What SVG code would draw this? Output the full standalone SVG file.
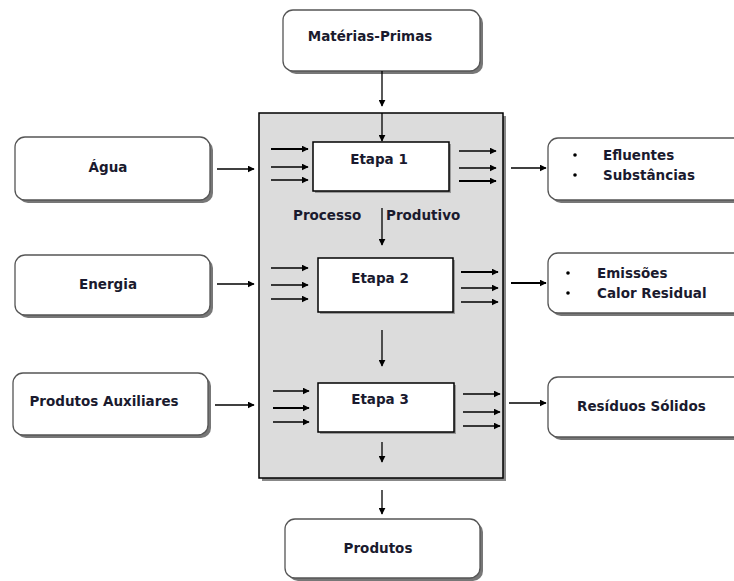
<svg xmlns="http://www.w3.org/2000/svg" width="734" height="581" viewBox="0 0 734 581">
<style>
.t{font-family:"DejaVu Sans",Verdana,sans-serif;font-weight:bold;font-size:13.5px;fill:#1a1a2e}
.rb{fill:#fff;stroke:#555;stroke-width:1.3}
.sh{fill:#777}
.c{stroke:#000;stroke-width:1.3;fill:none;marker-end:url(#ah)}
.k{stroke-width:2.2}
</style>
<defs>
<marker id="ah" viewBox="0 0 10 10" refX="9" refY="5" markerWidth="7" markerHeight="7" markerUnits="userSpaceOnUse" orient="auto">
<path d="M0,0 L10,5 L0,10 z" fill="#000"/>
</marker>
</defs>
<rect width="734" height="581" fill="#fff"/>
<g id="processo">
<rect x="262" y="116" width="244" height="365" fill="#888"/>
<rect x="259" y="113" width="244" height="365" fill="#dcdcdc" stroke="#000" stroke-width="1.5"/>
<text class="t" x="293" y="220">Processo</text>
<text class="t" x="386" y="220">Produtivo</text>
</g>
<g id="materias">
<rect class="sh" x="286" y="13" width="197" height="61" rx="10"/>
<rect class="rb" x="283" y="10" width="197" height="61" rx="10"/>
<text class="t" x="370" y="41" text-anchor="middle">Matérias-Primas</text>
</g>
<g id="agua">
<rect class="sh" x="18" y="140" width="195" height="63" rx="10"/>
<rect class="rb" x="15" y="137" width="195" height="63" rx="10"/>
<text class="t" x="108" y="172" text-anchor="middle">Água</text>
</g>
<g id="energia">
<rect class="sh" x="18" y="258" width="195" height="60" rx="10"/>
<rect class="rb" x="15" y="255" width="195" height="60" rx="10"/>
<text class="t" x="108" y="289" text-anchor="middle">Energia</text>
</g>
<g id="auxiliares">
<rect class="sh" x="16" y="376" width="195" height="62" rx="10"/>
<rect class="rb" x="13" y="373" width="195" height="62" rx="10"/>
<text class="t" x="104" y="406" text-anchor="middle">Produtos Auxiliares</text>
</g>
<g id="efluentes">
<rect class="sh" x="551" y="141" width="200" height="62" rx="10"/>
<rect class="rb" x="548" y="138" width="200" height="62" rx="10"/>
<circle cx="575" cy="155" r="1.8" fill="#000"/>
<circle cx="575" cy="175" r="1.8" fill="#000"/>
<text class="t" x="603" y="160">Efluentes</text>
<text class="t" x="603" y="180">Substâncias</text>
</g>
<g id="emissoes">
<rect class="sh" x="551" y="256" width="200" height="60" rx="10"/>
<rect class="rb" x="548" y="253" width="200" height="60" rx="10"/>
<circle cx="568" cy="273" r="1.8" fill="#000"/>
<circle cx="568" cy="293" r="1.8" fill="#000"/>
<text class="t" x="597" y="278">Emissões</text>
<text class="t" x="597" y="298">Calor Residual</text>
</g>
<g id="residuos">
<rect class="sh" x="551" y="380" width="200" height="60" rx="10"/>
<rect class="rb" x="548" y="377" width="200" height="60" rx="10"/>
<text class="t" x="577" y="411">Resíduos Sólidos</text>
</g>
<g id="produtos">
<rect class="sh" x="288" y="522" width="195" height="59" rx="10"/>
<rect class="rb" x="285" y="519" width="195" height="59" rx="10"/>
<text class="t" x="378" y="553" text-anchor="middle">Produtos</text>
</g>
<g id="etapa1">
<rect x="315" y="144" width="136" height="49" fill="#999"/>
<rect x="313" y="142" width="136" height="49" fill="#fff" stroke="#000" stroke-width="1.5"/>
<text class="t" x="379" y="164" text-anchor="middle">Etapa 1</text>
</g>
<g id="etapa2">
<rect x="320" y="260" width="135" height="54" fill="#999"/>
<rect x="318" y="258" width="135" height="54" fill="#fff" stroke="#000" stroke-width="1.5"/>
<text class="t" x="380" y="283" text-anchor="middle">Etapa 2</text>
</g>
<g id="etapa3">
<rect x="320" y="385" width="136" height="49" fill="#999"/>
<rect x="318" y="383" width="136" height="49" fill="#fff" stroke="#000" stroke-width="1.5"/>
<text class="t" x="380" y="404" text-anchor="middle">Etapa 3</text>
</g>
<g id="connectors">
<path class="c" d="M382,71 V106"/>
<path class="c" d="M382,113 V141"/>
<path class="c" d="M382,208 V245"/>
<path class="c" d="M382,330 V366"/>
<path class="c" d="M382,442 V462"/>
<path class="c" d="M382,490 V514"/>
<path class="c" d="M217,169 H254"/>
<path class="c" d="M217,284 H254"/>
<path class="c" d="M215,405 H254"/>
<path class="c" d="M511,168 H546"/>
<path class="c k" d="M511,283 H546"/>
<path class="c" d="M509,403 H546"/>
<path class="c k" d="M271,149 H308"/>
<path class="c" d="M271,167 H308"/>
<path class="c" d="M271,180 H308"/>
<path class="c" d="M459,151 H496"/>
<path class="c" d="M459,168 H496"/>
<path class="c k" d="M459,181 H496"/>
<path class="c" d="M271,268 H308"/>
<path class="c" d="M271,285 H308"/>
<path class="c" d="M271,299 H308"/>
<path class="c k" d="M461,272 H498"/>
<path class="c" d="M461,288 H498"/>
<path class="c" d="M461,302 H498"/>
<path class="c" d="M273,391 H309"/>
<path class="c k" d="M273,408 H309"/>
<path class="c" d="M273,422 H309"/>
<path class="c" d="M463,394 H500"/>
<path class="c" d="M463,412 H500"/>
<path class="c" d="M463,426 H500"/>
</g>
</svg>
